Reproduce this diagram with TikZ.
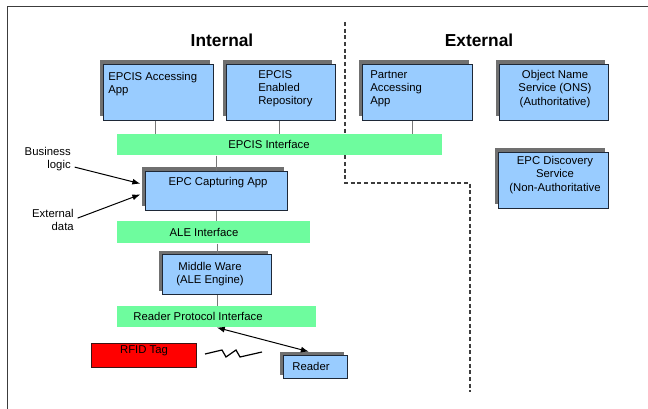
\documentclass[tikz,border=0pt]{standalone}
\usepackage{fontspec}
\setmainfont{Liberation Sans}
\usetikzlibrary{shadows}
\usetikzlibrary{arrows.meta}

\tikzset{
  blk/.style 2 args={draw={rgb, 255:red, 30; green, 40; blue, 55}, fill={rgb, 255:red, 153; green, 204; blue, 255}, line width=0.75pt, anchor=north west, inner sep=0pt, minimum width=#1*0.75pt, minimum height=#2*0.75pt, general shadow={fill={rgb, 255:red, 112; green, 112; blue, 112}, shadow xshift=-3pt, shadow yshift=3pt}},
  bar/.style 2 args={fill={rgb, 255:red, 110; green, 252; blue, 158}, anchor=north west, inner sep=0pt, minimum width=#1*0.75pt, minimum height=#2*0.75pt},
  tag/.style 2 args={draw={rgb, 255:red, 60; green, 20; blue, 20}, fill={rgb, 255:red, 255; green, 0; blue, 0}, line width=0.75pt, anchor=north west, inner sep=0pt, minimum width=#1*0.75pt, minimum height=#2*0.75pt},
  txt/.style={font=\fontsize{8.5}{10}\selectfont, inner sep=0.75pt},
  ttl/.style={font=\fontsize{13}{15}\bfseries, inner sep=0.75pt},
  lnk/.style={draw={rgb, 255:red, 120; green, 120; blue, 120}, line width=0.75pt},
  arr/.style={line width=0.75pt, -{Latex[length=6pt,width=4.5pt]}},
}

\begin{document}
\begin{tikzpicture}[x=0.75pt,y=0.75pt,yscale=-1,xscale=1]
\useasboundingbox (0,0) rectangle (648,409);

%frame
\draw [color={rgb, 255:red, 60; green, 60; blue, 60}, line width=0.75pt] (7,409) -- (7,7) -- (648,7);

%dashed border internal / external
\draw [color={rgb, 255:red, 60; green, 60; blue, 60}, line width=0.9pt, dash pattern=on 3pt off 2pt] (345,22) -- (345,183) -- (470,183) -- (470,392);

%titles
\node [ttl] (intT) at (222,40) {Internal};
\node [ttl] (extT) at (479,40) {External};

%boxes
\node [blk={110}{56}] (acc) at (103,64) {};
\node [blk={109}{56}] (repo) at (226,64) {};
\node [blk={110}{56}] (partner) at (362,64) {};
\node [blk={109}{56}] (ons) at (499,64) {};
\node [blk={110}{56}] (disc) at (498,152) {};
\node [bar={325}{21}] (epcis) at (117,134) {};
\node [blk={142}{39}] (cap) at (145,171) {};
\node [bar={193}{22}] (ale) at (117,221) {};
\node [blk={109}{40}] (mw) at (162,254) {};
\node [bar={199}{21}] (rpi) at (117,306) {};
\node [tag={105}{24}] (rfid) at (91,343) {};
\node [blk={64}{23}] (reader) at (283,355) {};

%box texts
\node [txt, anchor=north west, align=left] (accT) at (107,71) {EPCIS Accessing\\App};
\node [txt, anchor=north west, align=left] (repoT) at (257,69) {EPCIS\\Enabled\\Repository};
\node [txt, anchor=north west, align=left] (partnerT) at (369,69) {Partner\\Accessing\\App};
\node [txt, anchor=north, align=center] (onsT) at (555,69) {Object Name\\Service (ONS)\\(Authoritative)};
\node [txt, anchor=north, align=center] (discT) at (555,155) {EPC Discovery\\Service\\(Non-Authoritative};
\node [txt] (epcisT) at (269,144) {EPCIS Interface};
\node [txt, anchor=north] (capT) at (218,176) {EPC Capturing App};
\node [txt] (aleT) at (204,232) {ALE Interface};
\node [txt, align=center] (mwT) at (210,274) {Middle Ware\\(ALE Engine)};
\node [txt] (rpiT) at (198,316) {Reader Protocol Interface};
\node [txt, anchor=north] (rfidT) at (144,344) {RFID Tag};
\node [txt] (readerT) at (311,366) {Reader};
\node [txt, anchor=north east, align=right] (blT) at (72,146) {Business\\logic};
\node [txt, anchor=north east, align=right] (edT) at (75,208) {External\\data};

%links
\draw [lnk] ([xshift=-2pt]acc.south) -- ([xshift=-2pt]acc.south |- epcis.north);
\draw [lnk] ([xshift=-1pt]repo.south) -- ([xshift=-1pt]repo.south |- epcis.north);
\draw [lnk] ([xshift=-4pt]partner.south) -- ([xshift=-4pt]partner.south |- epcis.north);
\draw [lnk] (epcis.south -| cap.north) -- (cap.north);
\draw [lnk] (cap.south) -- (cap.south |- ale.north);
\draw [lnk] (ale.south -| mw.north) -- (mw.north);
\draw [lnk] (mw.south) -- (mw.south |- rpi.north);

%arrows
\draw [arr] ([xshift=2pt,yshift=-4pt]blT.south east) -- ([xshift=-3.5pt,yshift=-5.5pt]cap.west);
\draw [arr] ([xshift=2pt,yshift=-1.5pt]edT.east) -- ([xshift=-3.5pt,yshift=2.6pt]cap.west);
\draw [arr, {Latex[length=6pt,width=4.5pt]}-{Latex[length=6pt,width=4.5pt]}] (rpi.south) -- ([xshift=-5pt,yshift=-2.5pt]reader.north);

%radio link
\draw [line width=0.9pt] (205,354) -- (222,350) -- (226,357) -- (236,350) -- (240,357) -- (262,352);

\end{tikzpicture}
\end{document}
